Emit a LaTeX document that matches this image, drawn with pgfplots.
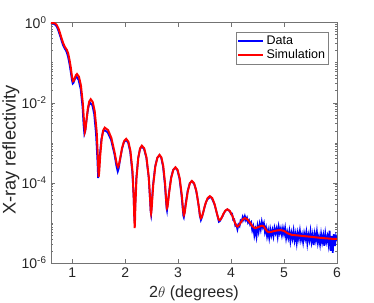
\documentclass[border=0pt]{standalone}
\usepackage{pgfplots}
\pgfplotsset{compat=1.18}
\usepackage{fontspec}
\setmainfont{Liberation Sans}
\begin{document}
\begin{tikzpicture}
\useasboundingbox (-40.8pt,-32pt) rectangle (258.4pt,210.4pt);
\begin{axis}[
  at={(0,0)}, anchor=south west,
  scale only axis, width=228.8pt, height=192.2pt,
  xmin=0.6, xmax=6, ymin=1e-6, ymax=1,
  ymode=log,
  xtick={1,2,3,4,5,6},
  ytick={1e-6,1e-4,1e-2,1},
  yticklabels={10\textsuperscript{-6},10\textsuperscript{-4},10\textsuperscript{-2},10\textsuperscript{0}},
  minor ytick={2e-6,3e-6,4e-6,5e-6,6e-6,7e-6,8e-6,9e-6,1e-5,2e-5,3e-5,4e-5,5e-5,6e-5,7e-5,8e-5,9e-5,
               2e-4,3e-4,4e-4,5e-4,6e-4,7e-4,8e-4,9e-4,1e-3,2e-3,3e-3,4e-3,5e-3,6e-3,7e-3,8e-3,9e-3,
               2e-2,3e-2,4e-2,5e-2,6e-2,7e-2,8e-2,9e-2,1e-1,2e-1,3e-1,4e-1,5e-1,6e-1,7e-1,8e-1,9e-1},
  tick align=inside,
  axis line style={black!55, line width=0.5pt},
  every tick/.style={black!55, line width=0.5pt},
  major tick length=3.5pt, minor tick length=1.8pt,
  ticklabel style={font=\fontsize{11.2}{13}\selectfont, text=black!85},
  /pgf/number format/assume math mode=true,
  xlabel={2$\theta$ (degrees)},
  ylabel={X-ray reflectivity},
  xlabel style={font=\fontsize{12.9}{14}\selectfont, text=black!85},
  ylabel style={font=\fontsize{14.6}{16}\selectfont, text=black!85,
    at={(axis description cs:-0.140,0.47)}, anchor=center, rotate=0},
  legend style={at={(0.972,0.9625)}, anchor=north east, draw=black!50, line width=0.4pt,
    font=\fontsize{10}{11.5}\selectfont, inner sep=1pt, row sep=-1.5pt},
  legend cell align=left,
  legend image code/.code={\draw[#1] (0pt,0pt) -- (20pt,0pt);},
]
\addplot[blue, line width=1.4pt] table[y expr=10^(\thisrow{ly})] {
x ly
0.60 -0.01
0.64 -0.02
0.68 -0.05
0.71 -0.10
0.74 -0.20
0.77 -0.32
0.80 -0.45
0.83 -0.57
0.86 -0.65
0.88 -0.69
0.90 -0.75
0.925 -0.87
0.95 -1.04
0.975 -1.25
0.995 -1.43
1.01 -1.52
1.025 -1.50
1.045 -1.43
1.065 -1.37
1.085 -1.35
1.12 -1.43
1.16 -1.66
1.195 -2.10
1.215 -2.55
1.23 -2.78
1.245 -2.72
1.26 -2.55
1.29 -2.24
1.315 -2.06
1.34 -2.00
1.38 -2.06
1.415 -2.28
1.45 -2.78
1.475 -3.40
1.49 -3.88
1.505 -3.72
1.52 -3.33
1.55 -2.92
1.58 -2.73
1.61 -2.68
1.67 -2.74
1.735 -2.93
1.80 -3.30
1.835 -3.58
1.86 -3.72
1.875 -3.66
1.90 -3.46
1.94 -3.16
1.975 -2.99
2.015 -2.93
2.055 -2.99
2.095 -3.22
2.135 -3.73
2.16 -4.35
2.17 -4.75
2.178 -4.95
2.19 -4.55
2.21 -3.90
2.245 -3.39
2.28 -3.16
2.31 -3.09
2.355 -3.15
2.40 -3.37
2.445 -3.87
2.47 -4.43
2.482 -4.72
2.49 -4.78
2.50 -4.55
2.525 -4.07
2.565 -3.60
2.605 -3.38
2.645 -3.31
2.68 -3.37
2.715 -3.59
2.75 -4.04
2.773 -4.47
2.783 -4.64
2.79 -4.69
2.80 -4.56
2.825 -4.27
2.865 -3.88
2.905 -3.68
2.945 -3.62
2.985 -3.68
3.025 -3.89
3.065 -4.32
3.09 -4.69
3.10 -4.83
3.108 -4.86
3.12 -4.76
3.14 -4.53
3.18 -4.20
3.22 -4.01
3.255 -3.96
3.30 -4.02
3.33 -4.14
3.36 -4.33
3.39 -4.60
3.41 -4.82
3.43 -4.93
3.45 -4.86
3.47 -4.76
3.50 -4.60
3.53 -4.47
3.56 -4.40
3.60 -4.36
3.63 -4.37
3.66 -4.45
3.69 -4.55
3.72 -4.70
3.75 -4.86
3.77 -4.97
3.79 -4.95
3.81 -4.90
3.84 -4.83
3.87 -4.74
3.90 -4.69
3.93 -4.66
3.96 -4.69
3.98 -4.72
4.00 -4.78
4.02 -4.77
4.04 -4.92
4.06 -4.91
4.08 -5.07
4.10 -5.05
4.12 -5.16
4.14 -5.04
4.16 -5.08
4.18 -4.94
4.20 -4.97
4.22 -4.85
4.24 -4.92
4.26 -4.83
4.28 -4.93
4.30 -4.87
4.32 -4.99
4.34 -4.94
4.36 -5.04
4.38 -4.99
4.40 -5.18
4.42 -5.09
4.44 -5.31
4.46 -5.17
4.48 -5.34
4.50 -5.08
4.52 -5.22
4.54 -5.03
4.56 -5.16
4.58 -4.97
4.60 -5.10
4.62 -5.01
4.64 -5.23
4.66 -5.12
4.68 -5.33
4.70 -5.19
4.72 -5.37
4.74 -5.16
4.76 -5.31
4.78 -5.18
4.80 -5.33
4.82 -5.13
4.84 -5.25
4.86 -5.14
4.88 -5.335
4.90 -5.10
4.92 -5.25
4.94 -5.14
4.96 -5.30
4.98 -5.135
5.00 -5.28
5.02 -5.13
5.04 -5.38
5.06 -5.23
5.08 -5.37
5.10 -5.21
5.12 -5.45
5.14 -5.25
5.16 -5.39
5.18 -5.195
5.20 -5.43
5.22 -5.27
5.24 -5.495
5.26 -5.255
5.28 -5.40
5.30 -5.20
5.32 -5.42
5.34 -5.295
5.36 -5.477
5.38 -5.26
5.40 -5.393
5.42 -5.235
5.44 -5.508
5.46 -5.30
5.48 -5.433
5.50 -5.215
5.52 -5.468
5.54 -5.30
5.56 -5.553
5.58 -5.275
5.60 -5.43
5.62 -5.222
5.64 -5.495
5.66 -5.347
5.68 -5.53
5.70 -5.282
5.72 -5.475
5.74 -5.317
5.76 -5.57
5.78 -5.272
5.80 -5.465
5.82 -5.337
5.84 -5.53
5.86 -5.192
5.88 -5.694
5.90 -5.325
5.92 -5.747
5.94 -5.278
5.96 -5.579
5.98 -5.34
6.00 -5.45
};
\addlegendentry{Data}
\addplot[red, line width=1.6pt] table[y expr=10^(\thisrow{ly})] {
x ly
0.60 0.000
0.64 -0.005
0.68 -0.02
0.71 -0.06
0.74 -0.14
0.77 -0.26
0.80 -0.39
0.83 -0.51
0.86 -0.60
0.88 -0.64
0.90 -0.68
0.925 -0.77
0.95 -0.93
0.975 -1.13
0.995 -1.33
1.015 -1.46
1.03 -1.45
1.05 -1.38
1.07 -1.31
1.09 -1.28
1.1275 -1.347
1.165 -1.566
1.2025 -2.032
1.225 -2.503
1.24 -2.72
1.251 -2.666
1.2675 -2.465
1.295 -2.148
1.3225 -1.967
1.35 -1.91
1.3875 -1.978
1.425 -2.206
1.4625 -2.717
1.485 -3.357
1.50 -3.85
1.5115 -3.707
1.5288 -3.327
1.5575 -2.896
1.5863 -2.684
1.615 -2.62
1.6775 -2.681
1.74 -2.878
1.8025 -3.248
1.84 -3.517
1.865 -3.60
1.8805 -3.559
1.904 -3.40
1.9425 -3.122
1.981 -2.954
2.02 -2.90
2.06 -2.968
2.10 -3.199
2.14 -3.721
2.164 -4.419
2.1736 -4.909
2.18 -5.13
2.1854 -4.969
2.1936 -4.552
2.214 -3.884
2.248 -3.367
2.282 -3.138
2.316 -3.07
2.3595 -3.137
2.403 -3.362
2.4465 -3.857
2.4726 -4.422
2.483 -4.685
2.49 -4.76
2.4964 -4.715
2.506 -4.534
2.53 -4.055
2.57 -3.586
2.61 -3.366
2.65 -3.30
2.685 -3.365
2.72 -3.581
2.755 -4.031
2.776 -4.454
2.7844 -4.597
2.79 -4.63
2.7964 -4.614
2.806 -4.539
2.83 -4.253
2.87 -3.872
2.91 -3.672
2.95 -3.61
2.99 -3.674
3.03 -3.884
3.07 -4.306
3.094 -4.668
3.1036 -4.776
3.11 -4.80
3.125 -4.740
3.1475 -4.524
3.185 -4.194
3.2225 -4.008
3.26 -3.95
3.3025 -4.01
3.345 -4.203
3.3875 -4.559
3.413 -4.807
3.43 -4.88
3.447 -4.854
3.4725 -4.743
3.515 -4.523
3.5575 -4.378
3.60 -4.33
3.645 -4.38
3.69 -4.534
3.735 -4.773
3.762 -4.899
3.78 -4.93
3.795 -4.921
3.8175 -4.879
3.855 -4.774
3.8925 -4.690
3.93 -4.66
3.9775 -4.702
4.025 -4.824
4.0725 -4.994
4.101 -5.072
4.12 -5.09
4.155 -5.052
4.19 -4.972
4.225 -4.905
4.26 -4.88
4.3075 -4.909
4.355 -4.987
4.4025 -5.083
4.45 -5.13
4.485 -5.12
4.52 -5.10
4.555 -5.08
4.59 -5.07
4.62 -5.09
4.65 -5.15
4.68 -5.21
4.71 -5.23
4.76 -5.22
4.82 -5.20
4.88 -5.185
4.94 -5.18
5.00 -5.20
5.07 -5.26
5.15 -5.30
5.25 -5.31
5.35 -5.325
5.47 -5.34
5.60 -5.36
5.75 -5.38
5.90 -5.395
6.00 -5.40
};
\addlegendentry{Simulation}
\end{axis}
\end{tikzpicture}
\end{document}
